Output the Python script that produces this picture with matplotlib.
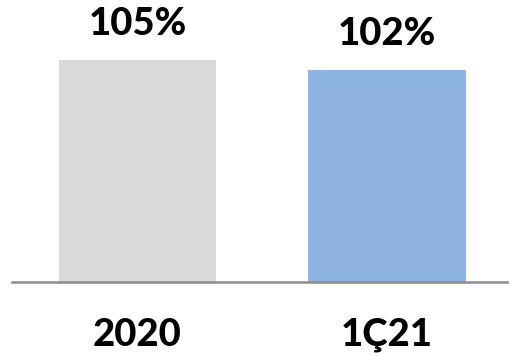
import matplotlib.pyplot as plt

# data
categories = ['2020', '1Ç21']
values = [105, 102]
labels = ['105%', '102%']
colors = ['#D9D9D9', '#8EB4E3']

plt.rcParams['font.family'] = ['Lato', 'DejaVu Sans']

fig = plt.figure(figsize=(5.09, 3.57), dpi=100)
ax = fig.add_axes([12 / 509, (357 - 281.7) / 357, 1 - 12 / 509, 281.7 / 357])

x = list(range(len(categories)))
bars = ax.bar(x, values, width=0.63, color=colors, zorder=2)

for bar, lab in zip(bars, labels):
    ax.annotate(lab, (bar.get_x() + bar.get_width() / 2, bar.get_height()),
                xytext=(0, 13.5), textcoords='offset points',
                ha='center', va='bottom', fontsize=27.5, fontweight='black')

ax.set_xlim(-0.503, 1.489)
ax.set_ylim(38.7, 122.8)

ax.set_xticks(x)
ax.set_xticklabels(categories, fontsize=27.5, fontweight='black')
ax.tick_params(axis='x', length=0, pad=26)
ax.set_yticks([])

for s in ['top', 'left', 'right']:
    ax.spines[s].set_visible(False)
ax.spines['bottom'].set_color('#8C8C8C')
ax.spines['bottom'].set_linewidth(1.8)
ax.spines['bottom'].set_zorder(3)

fig.savefig('out.png', dpi=100)
